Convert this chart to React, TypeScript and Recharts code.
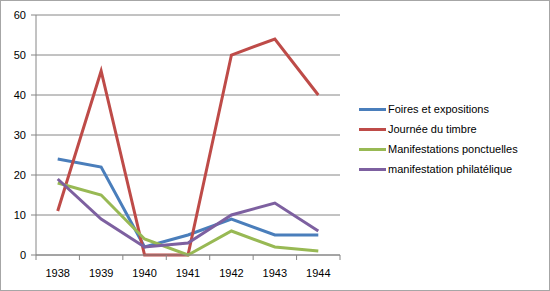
import React from 'react'
import { LineChart, Line, XAxis, YAxis, CartesianGrid } from 'recharts'

const years = ['1938', '1939', '1940', '1941', '1942', '1943', '1944']
const foires = [24, 22, 2, 5, 9, 5, 5]
const journee = [11, 46, 0, 0, 50, 54, 40]
const ponctuelles = [18, 15, 4, 0, 6, 2, 1]
const philatelique = [19, 9, 2, 3, 10, 13, 6]
const yTicks = [0, 10, 20, 30, 40, 50, 60]

const series = [
  { key: 'foires', name: 'Foires et expositions', color: '#4A7EBB' },
  { key: 'journee', name: 'Journée du timbre', color: '#BE4B48' },
  { key: 'ponctuelles', name: 'Manifestations ponctuelles', color: '#98B954' },
  { key: 'philatelique', name: 'manifestation philatélique', color: '#7D60A0' },
]

const data = years.map((year, i) => ({
  year,
  foires: foires[i],
  journee: journee[i],
  ponctuelles: ponctuelles[i],
  philatelique: philatelique[i],
}))

const W = 550
const H = 291
const plotLeft = 36
const plotRight = 340
const band = (plotRight - plotLeft) / years.length
const font = '"Liberation Sans", Arial, sans-serif'
const axisGrey = '#868686'

// excel puts the x tick marks between categories, not under them
function YearTick(props: any) {
  const { x, y, payload, index } = props
  return (
    <g>
      {index === 0 && (
        <line x1={x - band / 2} x2={x - band / 2} y1={y - 8} y2={y - 3} stroke={axisGrey} />
      )}
      <line x1={x + band / 2} x2={x + band / 2} y1={y - 8} y2={y - 3} stroke={axisGrey} />
      <text x={x} y={y + 14} textAnchor="middle" fill="#000" fontSize={11} fontFamily={font}>
        {payload.value}
      </text>
    </g>
  )
}

export default function App() {
  return (
    <div
      style={{
        position: 'absolute', left: 0, top: 0, width: W, height: H,
        background: '#fff', boxSizing: 'border-box', border: '1px solid #a6a6a6',
      }}
    >
      <div style={{ position: 'absolute', left: -1, top: -1 }}>
        <LineChart width={W} height={H} data={data} margin={{ top: 15, right: W - plotRight, bottom: 0, left: 0 }}>
          <CartesianGrid vertical={false} stroke={axisGrey} strokeWidth={1} />
          <XAxis
            dataKey="year"
            axisLine={{ stroke: axisGrey }}
            tickLine={false}
            tick={<YearTick />}
            height={36}
            interval={0}
            padding={{ left: band / 2, right: band / 2 }}
          />
          <YAxis
            domain={[0, 60]}
            ticks={yTicks}
            width={plotLeft}
            axisLine={{ stroke: axisGrey }}
            tickLine={{ stroke: axisGrey }}
            tickSize={5}
            tickMargin={5}
            tick={{ fill: '#000', fontSize: 11, fontFamily: font }}
          />
          {series.map((s) => (
            <Line
              key={s.key}
              dataKey={s.key}
              name={s.name}
              stroke={s.color}
              strokeWidth={3}
              dot={false}
              activeDot={false}
              isAnimationActive={false}
              strokeLinejoin="miter"
            />
          ))}
        </LineChart>
      </div>
      <div style={{ position: 'absolute', left: 358, top: 98, fontFamily: font, fontSize: 11 }}>
        {series.map((s) => (
          <div key={s.key} style={{ display: 'flex', alignItems: 'center', height: 20 }}>
            <div style={{ width: 27, height: 3, background: s.color, marginRight: 2 }} />
            <span>{s.name}</span>
          </div>
        ))}
      </div>
    </div>
  )
}
